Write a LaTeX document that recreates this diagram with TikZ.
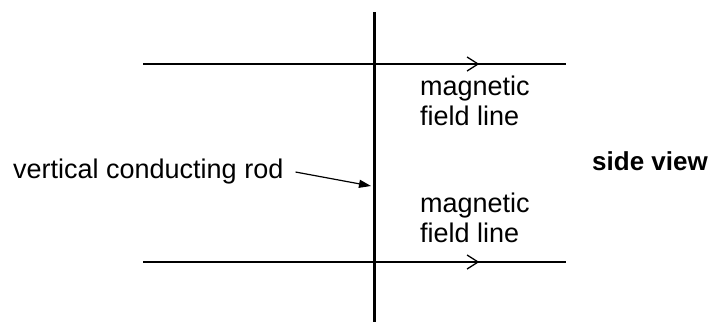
\documentclass[tikz,border=0pt]{standalone}
\usepackage{fontspec}
\setmainfont{Liberation Sans}
\usetikzlibrary{arrows.meta,decorations.markings}
\begin{document}
\begin{tikzpicture}[x=1pt,y=-1pt,
  lbl/.style={font=\fontsize{27}{30}\selectfont, inner sep=0pt, anchor=base west, align=left},
  fieldline/.style={line width=1.5pt, postaction=decorate,
    decoration={markings, mark=at position 0.795 with {\arrow{Straight Barb[length=11pt,width=14pt,line width=1.3pt]}}}},
  rodline/.style={line width=3pt},
  pointer/.style={line width=1.2pt,-{Triangle[length=12pt,width=8pt]}}]
\useasboundingbox (0,0) rectangle (713,322);
\coordinate (rt) at (374,12);
\coordinate (rb) at (374,322);
\coordinate (a1) at (143,64);
\coordinate (a2) at (566,64);
\coordinate (b1) at (143,262);
\coordinate (b2) at (566,262);
\coordinate (hit) at (371,186);
\draw[rodline] (rt) -- (rb);
\draw[fieldline] (a1) -- (a2);
\draw[fieldline] (b1) -- (b2);
\node[lbl] (mt) at (420,125) {magnetic\\field line};
\node[lbl] (mb) at (420,242) {magnetic\\field line};
\node[lbl] (vr) at (13,178) {vertical conducting rod};
\node[lbl, font=\fontsize{26}{30}\selectfont\bfseries] (sv) at (592,170) {side view};
\draw[pointer] ([xshift=12pt,yshift=-1pt]vr.east) coordinate (ps) -- (hit);
\end{tikzpicture}
\end{document}
